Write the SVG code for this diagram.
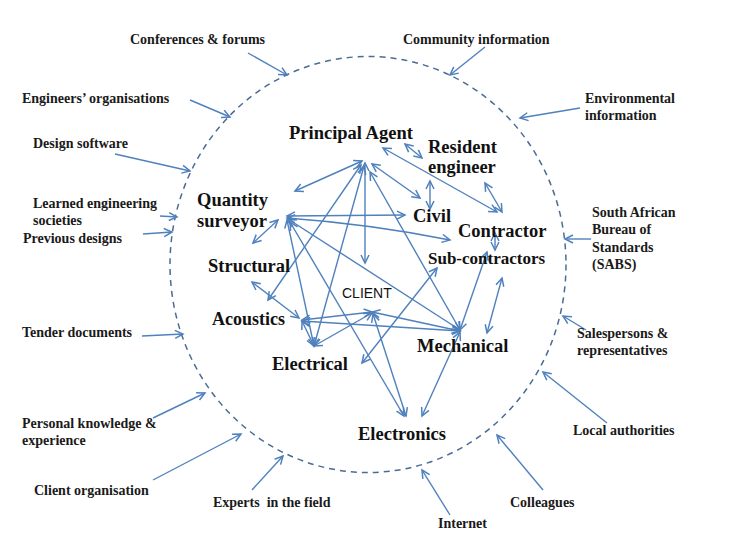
<svg xmlns="http://www.w3.org/2000/svg" width="737" height="558" viewBox="0 0 737 558">
<defs>
<marker id="a" markerUnits="userSpaceOnUse" markerWidth="12" markerHeight="12" viewBox="0 0 12 12" refX="10" refY="6" orient="auto-start-reverse">
<path d="M2,2 L10,6 L2,10" fill="none" stroke="#4f81bd" stroke-width="1.5"/>
</marker>
</defs>
<style>
.ext{font-family:"Liberation Serif",serif;font-weight:bold;font-size:14px;fill:#1a1a1a}
.in{font-family:"Liberation Serif",serif;font-weight:bold;font-size:18.5px;fill:#111}
.cl{font-family:"Liberation Sans",Arial,sans-serif;font-size:14px;fill:#111}
.c line,.c path{stroke:#4f81bd;stroke-width:1.4;fill:none;marker-end:url(#a)}
.c .d{marker-start:url(#a)}
.ring{fill:none;stroke:#4a6b96;stroke-width:1.5;stroke-dasharray:6 5}
</style>
<rect width="737" height="558" fill="#fff"/>
<ellipse class="ring" cx="368" cy="264.5" rx="198" ry="208"/>
<g class="c" id="connectors">
<!-- external -->
<line x1="248" y1="53" x2="287" y2="75"/>
<line x1="485" y1="47" x2="450" y2="75"/>
<line x1="190" y1="100" x2="230" y2="117"/>
<line x1="580" y1="108" x2="520" y2="118"/>
<line x1="115" y1="154" x2="190" y2="171"/>
<line x1="160" y1="216" x2="177" y2="217"/>
<line x1="143" y1="234" x2="172" y2="232"/>
<line x1="591" y1="239" x2="565" y2="239"/>
<line x1="142" y1="336" x2="183" y2="334"/>
<line x1="586" y1="330" x2="563" y2="316"/>
<line x1="153" y1="418" x2="205" y2="393"/>
<line x1="607" y1="423" x2="543" y2="372"/>
<line x1="153" y1="480" x2="241" y2="434"/>
<line x1="252" y1="490" x2="283" y2="456"/>
<line x1="543" y1="490" x2="497" y2="435"/>
<line x1="450" y1="515" x2="422" y2="470"/>
<!-- internal -->
<line class="d" x1="362" y1="161" x2="295" y2="191"/>
<line class="d" x1="365" y1="163" x2="365" y2="263"/>
<line class="d" x1="372" y1="164" x2="420" y2="198"/>
<line class="d" x1="370" y1="172" x2="460" y2="330"/>
<line class="d" x1="383" y1="148" x2="497" y2="212"/>
<line class="d" x1="405" y1="144" x2="422" y2="158"/>
<line class="d" x1="430" y1="181" x2="430" y2="209"/>
<line class="d" x1="485" y1="183" x2="502" y2="212"/>
<line class="d" x1="495" y1="233" x2="495" y2="250"/>
<line class="d" x1="361" y1="165" x2="268" y2="300"/>
<line class="d" x1="364" y1="166" x2="314" y2="346"/>
<line class="d" x1="287" y1="216" x2="405" y2="215"/>
<path class="d" d="M287,218 Q370,224 450,240"/>
<line class="d" x1="278" y1="220" x2="253" y2="243"/>
<line class="d" x1="287" y1="220" x2="314" y2="346"/>
<line class="d" x1="288" y1="219" x2="460" y2="330"/>
<line class="d" x1="290" y1="222" x2="404" y2="416"/>
<line class="d" x1="252" y1="282" x2="299" y2="318"/>
<line class="d" x1="302" y1="320" x2="372" y2="312"/>
<line class="d" x1="302" y1="321" x2="460" y2="331"/>
<line class="d" x1="302" y1="321" x2="314" y2="346"/>
<line class="d" x1="314" y1="346" x2="372" y2="313"/>
<line class="d" x1="362" y1="363" x2="437" y2="268"/>
<line class="d" x1="372" y1="312" x2="460" y2="331"/>
<line class="d" x1="373" y1="314" x2="406" y2="416"/>
<line class="d" x1="460" y1="332" x2="422" y2="416"/>
<line class="d" x1="460" y1="330" x2="487" y2="252"/>
<line class="d" x1="502" y1="278" x2="487" y2="333"/>
</g>
<g id="principal-agent"><text class="in" x="289" y="139">Principal Agent</text></g>
<g id="resident-engineer"><text class="in" x="428" y="153">Resident</text><text class="in" x="428" y="173">engineer</text></g>
<g id="quantity-surveyor"><text class="in" x="197" y="206">Quantity</text><text class="in" x="197" y="227">surveyor</text></g>
<g id="civil"><text class="in" x="413" y="222">Civil</text></g>
<g id="contractor"><text class="in" x="458" y="237">Contractor</text></g>
<g id="sub-contractors"><text class="in" x="428" y="264" style="font-size:17px">Sub-contractors</text></g>
<g id="structural"><text class="in" x="208" y="272" style="font-size:18.5px">Structural</text></g>
<g id="client"><text class="cl" x="342" y="298">CLIENT</text></g>
<g id="acoustics"><text class="in" x="212" y="325" style="font-size:18px">Acoustics</text></g>
<g id="electrical"><text class="in" x="272" y="370" style="font-size:18.5px">Electrical</text></g>
<g id="mechanical"><text class="in" x="417" y="352">Mechanical</text></g>
<g id="electronics"><text class="in" x="358" y="440">Electronics</text></g>
<g id="conferences"><text class="ext" x="130" y="44">Conferences &amp; forums</text></g>
<g id="community"><text class="ext" x="403" y="44">Community information</text></g>
<g id="engineers-org"><text class="ext" x="22" y="103">Engineers’ organisations</text></g>
<g id="environmental"><text class="ext" x="585" y="103">Environmental</text><text class="ext" x="585" y="120">information</text></g>
<g id="design-software"><text class="ext" x="33" y="148">Design software</text></g>
<g id="learned"><text class="ext" x="33" y="208">Learned engineering</text><text class="ext" x="33" y="225">societies</text></g>
<g id="previous"><text class="ext" x="23" y="243">Previous designs</text></g>
<g id="sabs"><text class="ext" x="592" y="217">South African</text><text class="ext" x="592" y="234">Bureau of</text><text class="ext" x="592" y="252">Standards</text><text class="ext" x="592" y="269">(SABS)</text></g>
<g id="tender"><text class="ext" x="22" y="337">Tender documents</text></g>
<g id="salespersons"><text class="ext" x="577" y="338">Salespersons &amp;</text><text class="ext" x="577" y="355">representatives</text></g>
<g id="personal"><text class="ext" x="22" y="428">Personal knowledge &amp;</text><text class="ext" x="22" y="445">experience</text></g>
<g id="local"><text class="ext" x="573" y="435">Local authorities</text></g>
<g id="client-org"><text class="ext" x="34" y="495">Client organisation</text></g>
<g id="experts"><text class="ext" x="213" y="507" xml:space="preserve">Experts  in the field</text></g>
<g id="colleagues"><text class="ext" x="510" y="507">Colleagues</text></g>
<g id="internet"><text class="ext" x="438" y="528">Internet</text></g>
</svg>
